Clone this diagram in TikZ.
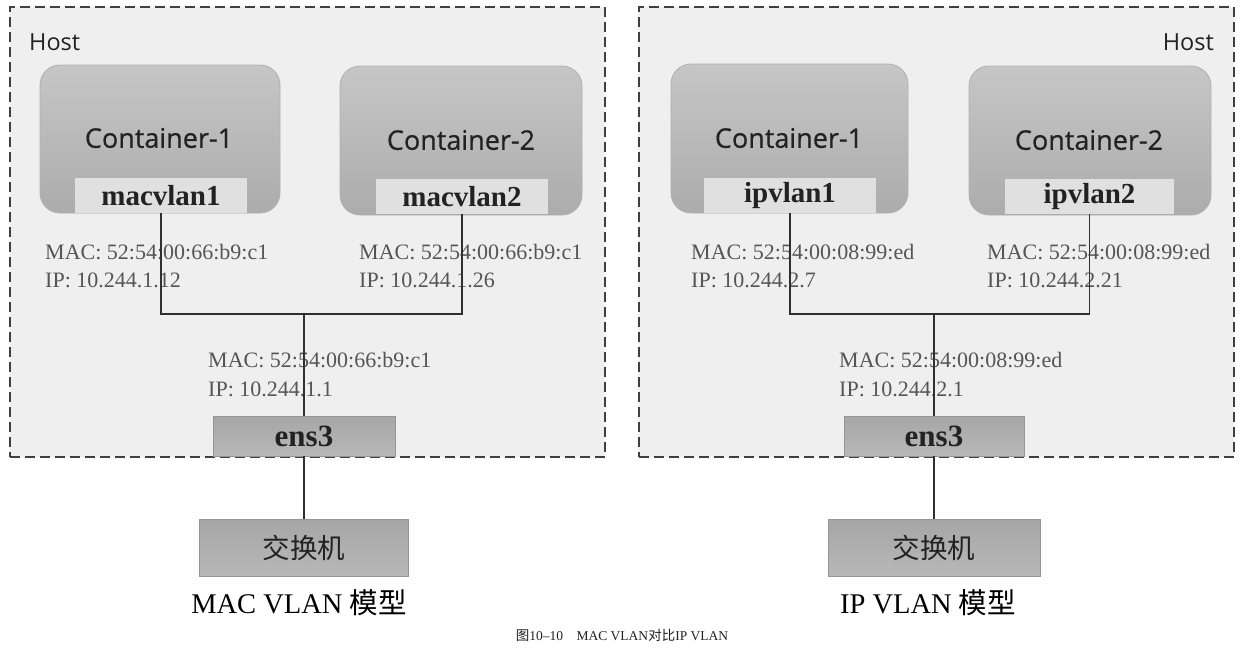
\documentclass[tikz,border=0pt]{standalone}
\usepackage{fontspec}
\setmainfont{Liberation Serif}
\newfontfamily\sansf[FakeBold=0.6]{Open Sans}
\newfontfamily\hostf{Open Sans}
\newfontfamily\cjk{Noto Sans CJK SC}
\definecolor{hostbg}{HTML}{EFEFEF}
\definecolor{dashc}{HTML}{404040}
\definecolor{conttop}{HTML}{C6C6C6}
\definecolor{contbot}{HTML}{ACACAC}
\definecolor{contedge}{HTML}{B0B0B0}
\definecolor{ifc}{HTML}{E0E0E0}
\definecolor{boxtop}{HTML}{A6A6A6}
\definecolor{boxbot}{HTML}{B8B8B8}
\definecolor{boxedge}{HTML}{959595}
\definecolor{txt}{HTML}{222222}
\definecolor{addr}{HTML}{555555}
\definecolor{wire}{HTML}{303030}
\tikzset{
  hostbox/.style={draw=dashc, line width=1.7pt, dash pattern=on 10pt off 5pt, fill=hostbg, anchor=north west, minimum width=595pt, minimum height=450pt, inner sep=0pt},
  contbox/.style={draw=contedge, line width=0.8pt, rounded corners=20pt, top color=conttop, bottom color=contbot, inner sep=0pt},
  ifbox/.style={fill=ifc, inner sep=0pt, minimum width=172pt, minimum height=35pt, text=txt, font=\bfseries\fontsize{29}{32}\selectfont},
  grbox/.style={draw=boxedge, line width=0.8pt, top color=boxtop, bottom color=boxbot, inner sep=0pt, text=txt},
  contlabel/.style={text=txt, font=\sansf\fontsize{27}{30}\selectfont, inner sep=0pt},
  hostlabel/.style={text=txt, font=\hostf\fontsize{23.5}{26}\selectfont, inner sep=0pt},
  addrlabel/.style={text=addr, font=\fontsize{22}{26}\selectfont, inner sep=0pt, anchor=base west},
  caplabel/.style={text=black, font=\fontsize{28.5}{32}\selectfont, inner sep=0pt},
  wireline/.style={draw=wire, line width=1.4pt}
}
\begin{document}
\begin{tikzpicture}[x=1pt, y=-1pt]
\useasboundingbox[fill=white] (0,0) rectangle (1243,657);

% ---------- Left: MAC VLAN ----------
\node[hostbox] (hostL) at (9,6) {};
\node[hostlabel, anchor=west] (hostLt) at (29,42) {Host};
\node[contbox, minimum width=240pt, minimum height=148pt] (cL1) at (160,139) {};
\node[contbox, minimum width=242pt, minimum height=149pt] (cL2) at (461,140.5) {};
\node[contlabel] (cL1t) at (159,138) {Container-1};
\node[contlabel] (cL2t) at (461,140) {Container-2};
\node[ifbox] (mL1) at (161,195.5) {macvlan1};
\node[ifbox] (mL2) at (462,196.5) {macvlan2};
\node[addrlabel] (aL1m) at (45,259) {MAC: 52:54:00:66:b9:c1};
\node[addrlabel] (aL1i) at (45,287) {IP: 10.244.1.12};
\node[addrlabel] (aL2m) at (359,259) {MAC: 52:54:00:66:b9:c1};
\node[addrlabel] (aL2i) at (359,287) {IP: 10.244.1.26};
\node[addrlabel] (aL0m) at (208,367) {MAC: 52:54:00:66:b9:c1};
\node[addrlabel] (aL0i) at (208,396) {IP: 10.244.1.1};
\node[grbox, minimum width=182pt, minimum height=40pt, font=\bfseries\fontsize{31}{32}\selectfont] (eL) at (304,436) {ens3};
\node[grbox, minimum width=209pt, minimum height=57pt, font=\cjk\fontsize{27.5}{30}\selectfont] (sL) at (304,547.5) {交换机};
\node[caplabel] (capL) at (299,603) {MAC VLAN {\cjk 模型}};
\coordinate (jL) at (304,314);
\draw[wireline] (mL1.south) |- (jL) -| (mL2.south);
\draw[wireline] (jL) -- (eL.north);
\draw[wireline] (eL.south) -- (sL.north);

% ---------- Right: IP VLAN ----------
\node[hostbox] (hostR) at (638,6) {};
\node[hostlabel, anchor=east] (hostRt) at (1214,42) {Host};
\node[contbox, minimum width=237pt, minimum height=149pt] (cR1) at (789.5,138.5) {};
\node[contbox, minimum width=242pt, minimum height=149pt] (cR2) at (1090,140.5) {};
\node[contlabel] (cR1t) at (789,138) {Container-1};
\node[contlabel] (cR2t) at (1089,140) {Container-2};
\node[ifbox] (mR1) at (790,195.5) {ipvlan1};
\node[ifbox, minimum width=169pt] (mR2) at (1089.5,196.5) {ipvlan2};
\node[addrlabel] (aR1m) at (691,259) {MAC: 52:54:00:08:99:ed};
\node[addrlabel] (aR1i) at (691,287) {IP: 10.244.2.7};
\node[addrlabel] (aR2m) at (987,259) {MAC: 52:54:00:08:99:ed};
\node[addrlabel] (aR2i) at (987,287) {IP: 10.244.2.21};
\node[addrlabel] (aR0m) at (839,367) {MAC: 52:54:00:08:99:ed};
\node[addrlabel] (aR0i) at (839,396) {IP: 10.244.2.1};
\node[grbox, minimum width=180pt, minimum height=40pt, font=\bfseries\fontsize{31}{32}\selectfont] (eR) at (934,436) {ens3};
\node[grbox, minimum width=212pt, minimum height=57pt, font=\cjk\fontsize{27.5}{30}\selectfont] (sR) at (934,547.5) {交换机};
\node[caplabel] (capR) at (928,603) {IP VLAN {\cjk 模型}};
\coordinate (jR) at (934,314);
\draw[wireline] (mR1.south) |- (jR) -| (mR2.south);
\draw[wireline] (jR) -- (eR.north);
\draw[wireline] (eR.south) -- (sR.north);

% ---------- Figure caption ----------
\node[text=txt, font=\fontsize{13.5}{15}\selectfont, inner sep=0pt] (figcap) at (622,635) {{\cjk 图}10--10\quad MAC VLAN{\cjk 对比}IP VLAN};
\end{tikzpicture}
\end{document}
